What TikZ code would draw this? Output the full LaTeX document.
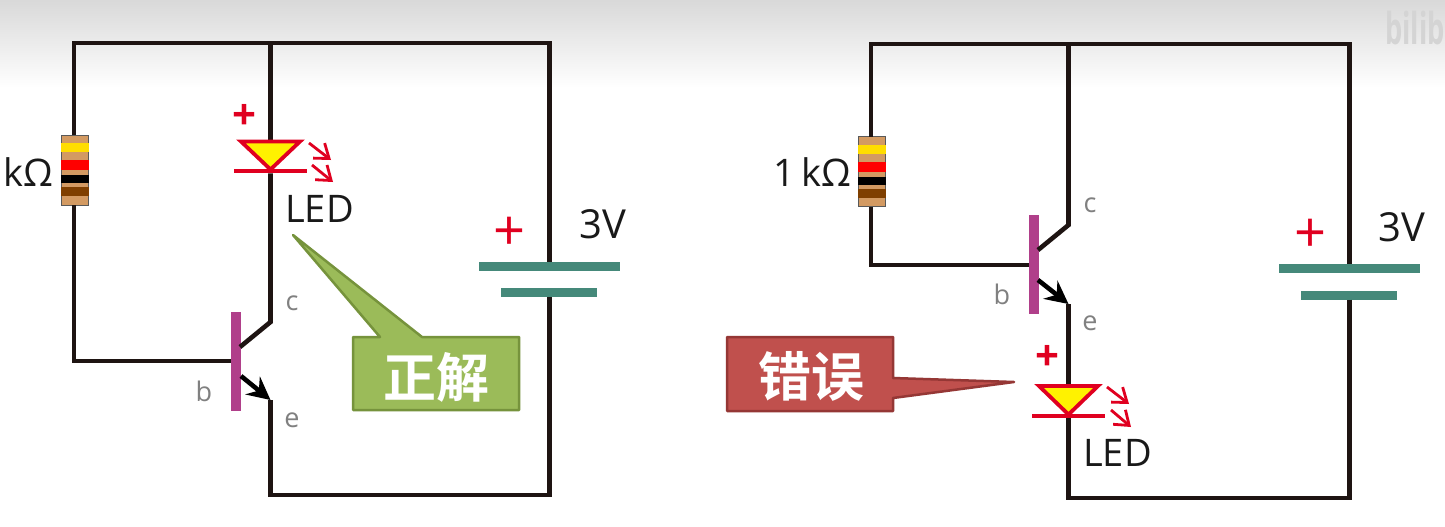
\documentclass[tikz,border=0pt]{standalone}
\usepackage{fontspec}
\usetikzlibrary{arrows.meta}
\setmainfont{Open Sans}
\newfontfamily\cjkbold[BoldFont={Noto Sans CJK SC Bold}]{Noto Sans CJK SC}
\definecolor{wirec}{HTML}{1E1412}
\definecolor{platec}{HTML}{45897A}
\definecolor{barc}{HTML}{B03F8A}
\definecolor{ledred}{HTML}{E00020}
\definecolor{bodyc}{HTML}{D39A62}
\definecolor{greenf}{HTML}{9BBB59}
\definecolor{greend}{HTML}{76933C}
\definecolor{redf}{HTML}{C0504D}
\definecolor{redd}{HTML}{953735}
\definecolor{bandy}{HTML}{FFDD00}
\definecolor{bandb}{HTML}{7F3F00}
\tikzset{
  x=1pt,y=-1pt,
  wire/.style={draw=wirec,line width=4.6pt,line join=miter},
  plate/.style={fill=platec,draw=none,minimum height=9pt,inner sep=0pt,outer sep=0pt},
  qbar/.style={fill=barc,draw=none,minimum width=10pt,minimum height=99pt,inner sep=0pt,outer sep=0pt},
  resbody/.style={fill=bodyc,draw=black!65,line width=0.8pt,minimum width=27pt,minimum height=70pt,inner sep=0pt,outer sep=0pt},
  ledtri/.style={fill=yellow,draw=ledred,line width=3.8pt,line join=miter},
  ledbar/.style={fill=ledred,draw=none,minimum width=73pt,minimum height=4.5pt,inner sep=0pt,outer sep=0pt},
  ledray/.style={draw=ledred,line width=2.8pt,-{Straight Barb[length=13pt,width=19pt,line width=2.8pt]}},
  emit/.style={draw=black,line width=4.6pt,-{Stealth[length=23pt,width=23pt,inset=8pt]}},
  txt/.style={font=\fontsize{38}{38}\selectfont,text=black!90,inner sep=0pt},
  volt/.style={font=\fontsize{40}{40}\selectfont,text=black!90,inner sep=0pt},
  pin/.style={font=\fontsize{27}{27}\selectfont,text=black!50,inner sep=0pt},
  plus/.style={font=\fontsize{42}{42}\selectfont\bfseries,text=ledred,inner sep=0pt},
  plusbig/.style={font=\fontsize{56}{56}\selectfont,text=ledred,inner sep=0pt},
  badge/.style={font=\cjkbold\bfseries\fontsize{53}{53}\selectfont,text=white,inner sep=0pt},
  calloutg/.style={fill=greenf,draw=greend,line width=2.5pt,line join=round},
  calloutr/.style={fill=redf,draw=redd,line width=2.5pt,line join=round},
}
\newcommand{\resbands}[2]{%
  \fill[bandy] (#1-14,#2-27) rectangle (#1+14,#2-18);
  \fill[red] (#1-14,#2-10) rectangle (#1+14,#2);
  \fill[black] (#1-14,#2+5) rectangle (#1+14,#2+13);
  \fill[bandb] (#1-14,#2+17) rectangle (#1+14,#2+26);
}
\begin{document}
\begin{tikzpicture}
\useasboundingbox (0,0) rectangle (1445,527);
\fill[white] (0,0) rectangle (1445,527);
\shade[top color=black!15,bottom color=white] (0,0) rectangle (1445,88);
\node[anchor=west,inner sep=0pt,text=black!17,font=\fontsize{44}{44}\selectfont\bfseries,xscale=0.62,transform shape] (wm) at (1385,28) {bilib};

% ---------- left circuit ----------
\node[resbody] (rL) at (74.5,170) {};
\resbands{74.5}{170}
\node[qbar] (qL) at (236,361.5) {};
\node[plate,minimum width=141pt] (p1L) at (549.5,266) {};
\node[plate,minimum width=96pt] (p2L) at (549,292.5) {};
\coordinate (tlL) at (74,43);
\coordinate (trL) at (549.5,43);
\coordinate (brL) at (549.5,495);
\coordinate (blL) at (270.5,495);
\coordinate (ctop) at (270.5,43);
\coordinate (ledAL) at (270.5,141);
\node[ledbar] (ledKL) at (270.5,171) {};
\coordinate (cL) at (270.5,322);
\coordinate (cbL) at (240,347);
\coordinate (ebL) at (241,376);
\coordinate (eL) at (270.5,400);
\coordinate (bL) at (74,361);
\draw[wire] (rL.north -| tlL) -- (tlL) -- (trL) -- (p1L.north -| trL);
\draw[wire] (p2L.south -| brL) -- (brL) -- (blL) -- (eL);
\draw[wire] (rL.south -| bL) -- (bL) -- (qL.west |- bL);
\draw[wire] (ctop) -- (ledAL);
\draw[wire] (ledKL.south) -- (cL) -- (cbL);
\draw[emit] (ebL) -- (eL);
\path[ledtri] (241,141.5) -- (300,141.5) -- (270.5,169.5) -- cycle;
\node[ledbar] at (270.5,171) {};
\draw[ledray] (309,143) -- (331,160);
\draw[ledray] (312,165) -- (333,182);
\node[plus] (plusLedL) at (244,117) {+};
\node[txt,anchor=west] (ledL) at (285,209) {LED};
\node[txt,anchor=east] (rtL) at (53,172) {kΩ};
\node[pin] (cLbl) at (292,303) {c};
\node[pin] (bLbl) at (204,391) {b};
\node[pin] (eLbl) at (292,420) {e};
\node[plusbig] (plusBatL) at (510,234) {+};
\node[volt] (vL) at (603,224) {3V};
\path[calloutg] (353,337) -- (380,337) -- (293,235) -- (422,337) -- (519,337) -- (519,410) -- (353,410) -- cycle;
\node[badge] (okL) at (436,377) {正解};

% ---------- right circuit ----------
\node[resbody] (rR) at (871.5,171.5) {};
\resbands{871.5}{171.5}
\node[qbar] (qR) at (1033.5,264.5) {};
\node[plate,minimum width=141pt] (p1R) at (1349.5,268) {};
\node[plate,minimum width=96pt] (p2R) at (1349,295) {};
\coordinate (tlR) at (871,44);
\coordinate (trR) at (1349.5,44);
\coordinate (brR) at (1349.5,498);
\coordinate (blR) at (1068.5,498);
\coordinate (ctopR) at (1068.5,44);
\coordinate (cR) at (1068.5,225);
\coordinate (cbR) at (1038,250);
\coordinate (ebR) at (1038,280);
\coordinate (eR) at (1068.5,304);
\coordinate (bR) at (871,265);
\coordinate (ledAR) at (1068.5,385);
\node[ledbar] (ledKR) at (1068.5,416) {};
\draw[wire] (rR.north -| tlR) -- (tlR) -- (trR) -- (p1R.north -| trR);
\draw[wire] (p2R.south -| brR) -- (brR) -- (blR) -- (ledKR.south -| blR);
\draw[wire] (rR.south -| bR) -- (bR) -- (qR.west |- bR);
\draw[wire] (ctopR) -- (cR) -- (cbR);
\draw[emit] (ebR) -- (eR);
\draw[wire] (eR) -- (ledAR);
\path[ledtri] (1039,386) -- (1098,386) -- (1068.5,414.5) -- cycle;
\node[ledbar] at (1068.5,416) {};
\draw[ledray] (1107,387) -- (1129,404);
\draw[ledray] (1111,410) -- (1131,427);
\node[plus] (plusLedR) at (1047,358) {+};
\node[txt,anchor=west] (ledR) at (1083,453) {LED};
\node[txt,anchor=east] (rtR) at (851,172) {1\,kΩ};
\node[pin] (cLblR) at (1090,205) {c};
\node[pin] (bLblR) at (1002,294) {b};
\node[pin] (eLblR) at (1090,323) {e};
\node[plusbig] (plusBatR) at (1310,236) {+};
\node[volt] (vR) at (1402,227) {3V};
\path[calloutr] (727,337) -- (893,337) -- (893,378) -- (1014,382) -- (893,398) -- (893,411) -- (727,411) -- cycle;
\node[badge] (okR) at (811,376) {错误};
\end{tikzpicture}
\end{document}
